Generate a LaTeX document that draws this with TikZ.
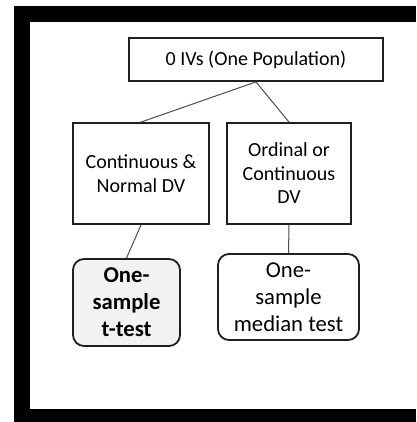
\documentclass[tikz,border=0pt]{standalone}
\usepackage{fontspec}
\setmainfont{Carlito}
\begin{document}
\begin{tikzpicture}[x=1pt,y=-1pt,
  box/.style={draw=black!88,line width=1.8pt,fill=white,inner sep=0pt,align=center,
    font=\fontsize{20}{23.5}\selectfont},
  testbox/.style={box,rounded corners=11pt,font=\fontsize{22.7}{27}\selectfont},
  link/.style={draw=black!70,line width=1pt}]
\useasboundingbox (0,0) rectangle (416,422);
% outer frame, open on the right
\fill[black] (14,6) rectangle (416,22);
\fill[black] (14,6) rectangle (30,422);
\fill[black] (14,409) rectangle (416,422);
% decision boxes
\node[box,minimum width=254pt,minimum height=43pt] (top) at (256,59.5) {0 IVs (One Population)};
\node[box,minimum width=136pt,minimum height=101pt] (cnorm) at (141,173.5) {Continuous \&\\Normal DV};
\node[box,minimum width=124pt,minimum height=101pt] (ordcont) at (289,173.5) {Ordinal or\\Continuous\\DV};
% resulting tests
\node[testbox,fill=black!5,minimum width=107pt,minimum height=87pt,font=\fontsize{22.7}{27}\selectfont\bfseries] (ttest) at (126.5,302.5) {One-\\sample\\t-test};
\node[testbox,minimum width=141pt,minimum height=86pt] (median) at (288.5,297) {One-\\sample\\median test};
% connectors
\draw[link] (top.south) -- (cnorm.north);
\draw[link] (top.south) -- (ordcont.north);
\draw[link] (cnorm.south) -- (ttest.north);
\draw[link] (ordcont.south) -- (median.north);
\end{tikzpicture}
\end{document}
